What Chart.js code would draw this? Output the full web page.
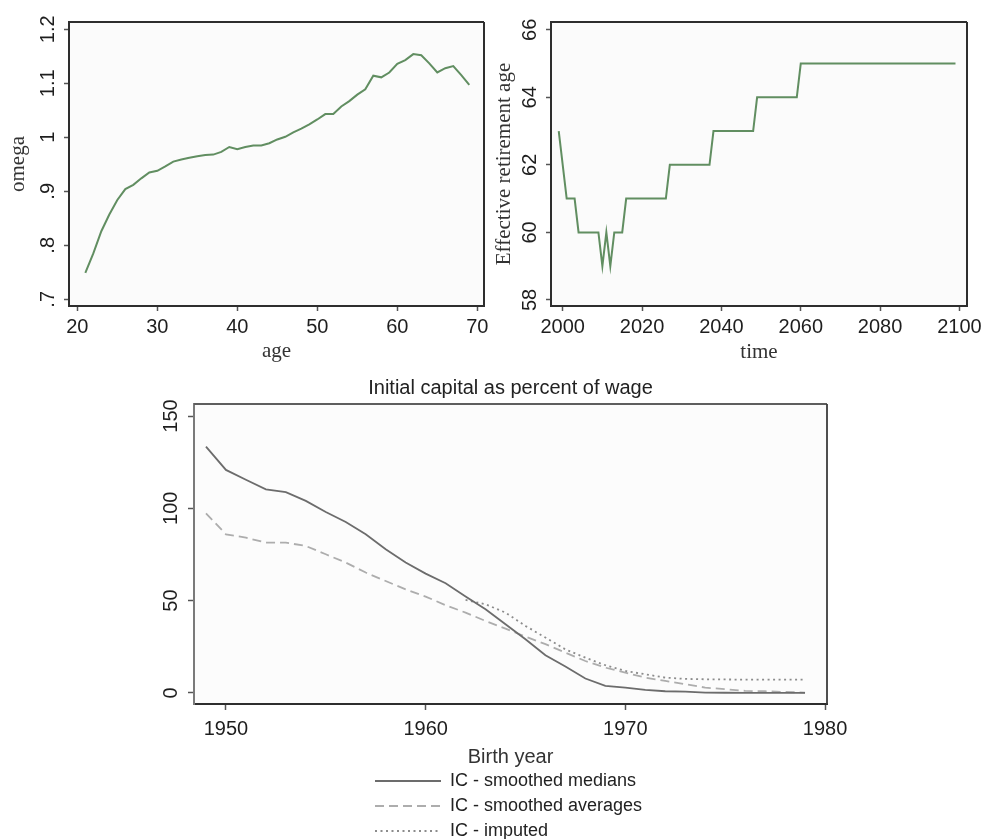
<!DOCTYPE html>
<html>
<head>
<meta charset="utf-8">
<script src="https://cdn.jsdelivr.net/npm/chart.js@4.4.1/dist/chart.umd.min.js"></script>
<style>
  html, body { margin: 0; padding: 0; background: #fff; }
  body { width: 982px; height: 839px; position: relative; overflow: hidden; }
  .box { position: absolute; }
</style>
</head>
<body>
<div class="box" style="left:0;top:0;width:490px;height:365px"><canvas id="omegaChart"></canvas></div>
<div class="box" style="left:490px;top:0;width:492px;height:365px"><canvas id="retChart"></canvas></div>
<div class="box" style="left:0;top:365px;width:982px;height:474px"><canvas id="icChart"></canvas></div>
<script>
// omega by age
var ages = [21, 22, 23, 24, 25, 26, 27, 28, 29, 30, 31, 32, 33, 34, 35, 36, 37, 38, 39, 40,
    41, 42, 43, 44, 45, 46, 47, 48, 49, 50, 51, 52, 53, 54, 55, 56, 57, 58, 59, 60,
    61, 62, 63, 64, 65, 66, 67, 68, 69];
var omega = [0.749, 0.785, 0.826, 0.857, 0.884, 0.904, 0.912, 0.924, 0.935, 0.938,
    0.946, 0.955, 0.959, 0.962, 0.965, 0.967, 0.968, 0.973, 0.982, 0.978,
    0.982, 0.985, 0.985, 0.989, 0.996, 1.001, 1.009, 1.016, 1.024, 1.033,
    1.043, 1.043, 1.057, 1.067, 1.079, 1.089, 1.114, 1.111, 1.120, 1.136,
    1.143, 1.154, 1.152, 1.137, 1.120, 1.128, 1.132, 1.115, 1.097];
var ageTicks = [20, 30, 40, 50, 60, 70];
var omegaTicks = [0.7, 0.8, 0.9, 1, 1.1, 1.2];

// effective retirement age (years where the path turns)
var retYears = [1999, 2001, 2003, 2004, 2009, 2010, 2011, 2012, 2013, 2015, 2016,
    2026, 2027, 2037, 2038, 2048, 2049, 2059, 2060, 2099];
var retAges = [63, 61, 61, 60, 60, 59, 60, 59, 60, 60, 61,
    61, 62, 62, 63, 63, 64, 64, 65, 65];
var timeTicks = [2000, 2020, 2040, 2060, 2080, 2100];
var retTicks = [58, 60, 62, 64, 66];

// initial capital as percent of wage
var birthYears = [1949, 1950, 1951, 1952, 1953, 1954, 1955, 1956, 1957, 1958, 1959,
    1960, 1961, 1962, 1963, 1964, 1965, 1966, 1967, 1968, 1969,
    1970, 1971, 1972, 1973, 1974, 1975, 1976, 1977, 1978, 1979];
var icMedians = [133.4, 120.8, 115.5, 110.3, 108.8, 104, 98, 92.6, 85.9, 77.8, 70.6,
    64.6, 59.4, 52.2, 45.3, 37.2, 29.1, 20.4, 14.3, 7.8, 3.8,
    2.9, 1.6, 0.9, 0.7, 0.2, 0.1, 0, 0, 0, 0];
var icAverages = [97.3, 85.9, 84.1, 81.4, 81.4, 79.6, 75.1, 70.6, 65.2, 60.6, 56.1,
    52.2, 47.5, 43.5, 39, 34.8, 30.5, 26.4, 21.8, 17.3, 13.7,
    11, 8.3, 6.5, 4.7, 2.9, 2, 1.1, 0.9, 0.5, 0.2];
var icImputed = [null, null, null, null, null, null, null, null, null, null, null,
    null, null, 50.4, 48, 43.5, 36.3, 30, 23.6, 19.1, 15,
    11.9, 10.1, 8.3, 7.6, 7.4, 7.3, 7.2, 7.2, 7.2, 7.2];
var birthTicks = [1950, 1960, 1970, 1980];
var icTicks = [0, 50, 100, 150];

var SANS = "'Liberation Sans', Arial, sans-serif";
var SERIF = "'Liberation Serif', 'Times New Roman', serif";
var GREEN = '#618e61';

Chart.defaults.font.family = SANS;
Chart.defaults.color = '#222';

function pts(xs, ys) {
    return xs.map(function (x, i) { return {x: x, y: ys[i]}; });
}

function fixTicks(list) {
    return function (scale) {
        scale.ticks = list.map(function (v) { return {value: v}; });
    };
}

function plain(v) {
    return String(v);
}

// plot background + top/right frame sides (left/bottom come from the axes)
function marco(fondo, colorTop, colorRight, ancho) {
    return {
        id: 'marco',
        beforeDraw: function (chart) {
            var a = chart.chartArea, c = chart.ctx;
            c.save();
            c.fillStyle = fondo;
            c.fillRect(a.left, a.top, a.right - a.left, a.bottom - a.top);
            c.restore();
        },
        afterDraw: function (chart) {
            var a = chart.chartArea, c = chart.ctx;
            c.save();
            c.lineWidth = ancho;
            c.strokeStyle = colorTop;
            c.beginPath();
            c.moveTo(a.left, a.top);
            c.lineTo(a.right, a.top);
            c.stroke();
            c.strokeStyle = colorRight;
            c.beginPath();
            c.moveTo(a.right, a.top);
            c.lineTo(a.right, a.bottom);
            c.stroke();
            c.restore();
        }
    };
}

// labels may hang over the plot edges, so the scale asks no extra room
function sinRelleno(s) {
    s.paddingLeft = 0;
    s.paddingRight = 0;
    s.paddingTop = 0;
    s.paddingBottom = 0;
}

function ejeX(min, max, ticks, alto, titulo, tituloFont, padTitulo, padTicks, tickLen) {
    return {
        type: 'linear', min: min, max: max,
        afterBuildTicks: fixTicks(ticks),
        afterFit: function (s) { s.height = alto; sinRelleno(s); },
        border: {display: true, color: '#2e2e2e', width: 2},
        grid: {drawOnChartArea: false, drawTicks: true, tickLength: tickLen, tickColor: '#555', tickWidth: 1.5},
        ticks: {autoSkip: false, maxRotation: 0, padding: padTicks, color: '#1e1e1e',
            font: {family: SANS, size: 20}, callback: plain},
        title: {display: true, text: titulo, color: '#333', font: tituloFont, padding: {top: 0, bottom: padTitulo}}
    };
}

function ejeY(min, max, ticks, ancho, titulo, tituloFont, padTitulo, padTicks, tickLen, borde, fmt) {
    return {
        type: 'linear', min: min, max: max,
        afterBuildTicks: fixTicks(ticks),
        afterFit: function (s) { s.width = ancho; sinRelleno(s); },
        border: {display: true, color: borde, width: 2},
        grid: {drawOnChartArea: false, drawTicks: true, tickLength: tickLen, tickColor: '#555', tickWidth: 1.5},
        ticks: {autoSkip: false, minRotation: 90, maxRotation: 90, crossAlign: 'center', padding: padTicks,
            color: '#1e1e1e', font: {family: SANS, size: 20}, callback: fmt},
        title: {display: !!titulo, text: titulo, color: '#333', font: tituloFont, padding: {top: padTitulo, bottom: 0}}
    };
}

///////////////////////////
// omega vs age
///////////////////////////
new Chart(document.getElementById('omegaChart'), {
    type: 'line',
    data: {
        datasets: [{
            data: pts(ages, omega),
            borderColor: GREEN, borderWidth: 2, pointRadius: 0, tension: 0, fill: false
        }]
    },
    options: {
        responsive: true, maintainAspectRatio: false, animation: false,
        layout: {padding: {left: 0, top: 22, right: 6, bottom: 0}},
        plugins: {legend: {display: false}, tooltip: {enabled: false}},
        scales: {
            x: ejeX(18.96, 70.84, ageTicks, 59, 'age', {family: SERIF, size: 21}, 1.4, 4, 5),
            y: ejeY(0.6876, 1.2135, omegaTicks, 69, 'omega', {family: SERIF, size: 21}, 6, 2, 5, '#2e2e2e',
                function (v) {
                    var s = String(Math.round(v * 10) / 10);
                    return s.replace(/^0\./, '.');
                })
        }
    },
    plugins: [marco('#fbfbfb', '#2e2e2e', '#2e2e2e', 2)]
});

///////////////////////////
// effective retirement age
///////////////////////////
new Chart(document.getElementById('retChart'), {
    type: 'line',
    data: {
        datasets: [{
            data: pts(retYears, retAges),
            borderColor: GREEN, borderWidth: 2, pointRadius: 0, tension: 0, fill: false
        }]
    },
    options: {
        responsive: true, maintainAspectRatio: false, animation: false,
        layout: {padding: {left: 0, top: 22, right: 15, bottom: 0}},
        plugins: {legend: {display: false}, tooltip: {enabled: false}},
        scales: {
            x: ejeX(1997.05, 2101.9, timeTicks, 59, 'time', {family: SERIF, size: 21}, 0.4, 4, 5),
            y: ejeY(57.82, 66.23, retTicks, 61, 'Effective retirement age', {family: SERIF, size: 21}, 1.4, 4, 5, '#2e2e2e', plain)
        }
    },
    plugins: [marco('#fbfbfb', '#2e2e2e', '#2e2e2e', 2)]
});

///////////////////////////
// initial capital
///////////////////////////
new Chart(document.getElementById('icChart'), {
    type: 'line',
    data: {
        datasets: [{
            label: 'IC - smoothed medians',
            data: pts(birthYears, icMedians),
            borderColor: '#6c6c6c', borderWidth: 1.8, pointRadius: 0, tension: 0, fill: false
        }, {
            label: 'IC - smoothed averages',
            data: pts(birthYears, icAverages),
            borderColor: '#adadad', borderWidth: 1.8, borderDash: [9, 5], pointRadius: 0, tension: 0, fill: false
        }, {
            label: 'IC - imputed',
            data: pts(birthYears, icImputed),
            borderColor: '#8c8c8c', borderWidth: 1.8, borderDash: [2, 3.5], pointRadius: 0, tension: 0, fill: false
        }]
    },
    options: {
        responsive: true, maintainAspectRatio: false, animation: false,
        layout: {padding: {left: 0, top: 0, right: 155, bottom: 0}},
        plugins: {
            tooltip: {enabled: false},
            title: {
                display: true, fullSize: false, text: 'Initial capital as percent of wage',
                color: '#222', font: {family: SANS, size: 20, weight: 'normal'},
                padding: {top: 11, bottom: 4}
            },
            legend: {
                display: true, position: 'bottom', align: 'start', maxHeight: 1,
                labels: {
                    usePointStyle: true, pointStyle: 'line', pointStyleWidth: 66,
                    padding: 7, color: '#222', font: {family: SANS, size: 18},
                    // the line sample takes its dash from the dataset line
                    generateLabels: function (chart) {
                        var items = Chart.defaults.plugins.legend.labels.generateLabels(chart);
                        items.forEach(function (it) {
                            var ds = chart.data.datasets[it.datasetIndex];
                            it.lineDash = ds.borderDash || [];
                            it.strokeStyle = ds.borderColor;
                            it.lineWidth = ds.borderWidth;
                        });
                        return items;
                    }
                }
            }
        },
        scales: {
            x: ejeX(1948.4, 1980.1, birthTicks, 134, 'Birth year', {family: SANS, size: 20}, 69, 7, 6),
            y: ejeY(-6, 156.5, icTicks, 194, '', {family: SANS, size: 20}, 0, 0, 6, '#7a7a7a', plain)
        }
    },
    plugins: [marco('#fcfcfc', '#5e5e5e', '#3c3c3c', 1.8), {
        // legend block sits under the axis title, one entry per row
        id: 'sitioLeyenda',
        afterLayout: function (chart) {
            var lg = chart.legend;
            lg.left = 368;
            lg.right = 688;
            lg.width = 320;
            lg.top = 400;
            lg.height = 80;
            lg.bottom = 480;
        }
    }]
});
</script>
</body>
</html>
